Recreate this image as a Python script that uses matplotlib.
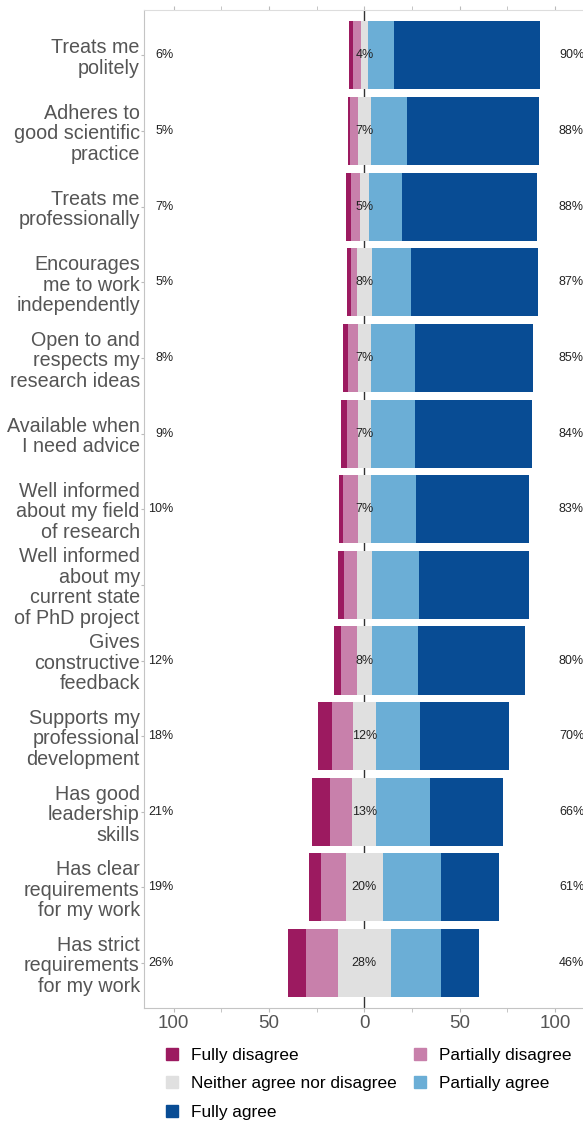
import matplotlib.pyplot as plt
from matplotlib.patches import Patch
import numpy as np

plt.rcParams['font.family'] = ['Liberation Sans', 'DejaVu Sans']

statements = [
    "Treats me\npolitely",
    "Adheres to\ngood scientific\npractice",
    "Treats me\nprofessionally",
    "Encourages\nme to work\nindependently",
    "Open to and\nrespects my\nresearch ideas",
    "Available when\nI need advice",
    "Well informed\nabout my field\nof research",
    "Well informed\nabout my\ncurrent state\nof PhD project",
    "Gives\nconstructive\nfeedback",
    "Supports my\nprofessional\ndevelopment",
    "Has good\nleadership\nskills",
    "Has clear\nrequirements\nfor my work",
    "Has strict\nrequirements\nfor my work",
]

fully_disagree = [2.1, 1.4, 2.6, 2.1, 2.6, 3.1, 2.5, 3.1, 4.0, 7.3, 9.4, 6.6, 9.4]
partially_disagree = [4.2, 3.8, 4.7, 3.1, 5.2, 5.8, 7.6, 6.8, 8.2, 11.0, 11.5, 12.8, 16.8]
neutral = [3.7, 7.0, 4.7, 7.6, 6.8, 6.6, 6.8, 7.9, 7.6, 12.1, 12.6, 19.6, 27.6]
partially_agree = [13.6, 18.6, 17.3, 20.8, 23.0, 23.4, 23.6, 24.6, 24.1, 23.1, 28.3, 30.4, 26.6]
fully_agree = [76.5, 69.2, 70.8, 66.5, 62.2, 61.0, 59.2, 57.6, 56.1, 46.6, 38.0, 30.4, 19.7]

left_pct = ["6%", "5%", "7%", "5%", "8%", "9%", "10%", "", "12%", "18%", "21%", "19%", "26%"]
mid_pct = ["4%", "7%", "5%", "8%", "7%", "7%", "7%", "", "8%", "12%", "13%", "20%", "28%"]
right_pct = ["90%", "88%", "88%", "87%", "85%", "84%", "83%", "", "80%", "70%", "66%", "61%", "46%"]

levels = ["Fully disagree", "Partially disagree", "Neither agree nor disagree",
          "Partially agree", "Fully agree"]
colors = ["#9c1a60", "#c880ab", "#e0e0e0", "#6baed6", "#084c94"]

fd = np.array(fully_disagree)
pdis = np.array(partially_disagree)
nt = np.array(neutral)
pa = np.array(partially_agree)
fa = np.array(fully_agree)
y = np.arange(len(statements))

fig = plt.figure(figsize=(5.83, 11.22), dpi=100)
ax = fig.add_axes([144 / 583, 1 - 1007.7 / 1122, 439 / 583, 997.7 / 1122])

ax.axvline(0, color="#333333", lw=1, zorder=0)

h = 0.9
ax.barh(y, fd, left=-(nt / 2 + pdis + fd), height=h, color=colors[0], zorder=2)
ax.barh(y, pdis, left=-(nt / 2 + pdis), height=h, color=colors[1], zorder=2)
ax.barh(y, nt, left=-nt / 2, height=h, color=colors[2], zorder=2)
ax.barh(y, pa, left=nt / 2, height=h, color=colors[3], zorder=2)
ax.barh(y, fa, left=nt / 2 + pa, height=h, color=colors[4], zorder=2)

for i in y:
    ax.text(-100, i, left_pct[i], ha="right", va="center", fontsize=9, color="#222222")
    ax.text(0, i, mid_pct[i], ha="center", va="center", fontsize=9, color="#222222", zorder=3)
    ax.text(102, i, right_pct[i], ha="left", va="center", fontsize=9, color="#222222")

ax.set_xlim(-115.5, 114.6)
ax.set_ylim(len(statements) - 1 + 0.59, -0.6)

ax.set_yticks(y)
ax.set_yticklabels(statements, fontsize=14.2, color="#555555", linespacing=1.1)
ax.set_xticks([-100, -50, 0, 50, 100])
ax.set_xticks([-75, -25, 25, 75], minor=True)
ax.set_xticklabels(["100", "50", "0", "50", "100"], fontsize=13.5, color="#555555")
ax.tick_params(axis="x", which="both", length=3, color="#bbbbbb", top=True, pad=2)
ax.tick_params(axis="y", length=2, color="#bbbbbb", pad=1)

for side in ["left", "bottom", "top"]:
    ax.spines[side].set_color("#c4c4c4")
ax.spines["top"].set_color("#dddddd")
ax.spines["right"].set_visible(False)

handles = [Patch(color=c, label=l) for c, l in zip(colors, levels)]
order = [0, 2, 4, 1, 3]
fig.legend([handles[k] for k in order], [levels[k] for k in order],
           ncol=2, loc="upper left", bbox_to_anchor=(157 / 583, 1 - 1039 / 1122),
           frameon=False, fontsize=12.4, handlelength=0.7, handleheight=0.7,
           handletextpad=0.75, columnspacing=1.05, labelspacing=0.78, borderpad=0)

fig.savefig("out.png", dpi=100)
